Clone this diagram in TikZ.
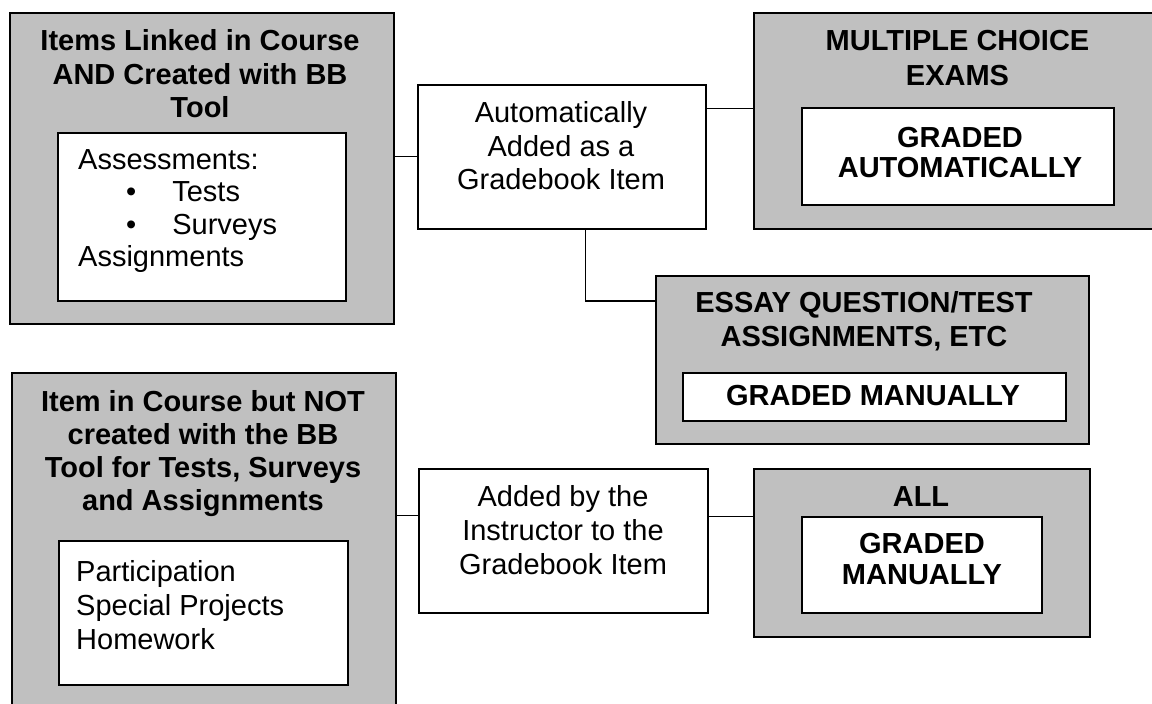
\documentclass[tikz,border=0pt]{standalone}
\usepackage{fontspec}
\setmainfont{Liberation Sans}
\definecolor{boxGray}{HTML}{C0C0C0}
\tikzstyle{grayBox}=[shape = rectangle, draw, fill = boxGray, line width = 1.8pt, inner sep = 0pt, anchor = north west]
\tikzstyle{whiteBox}=[shape = rectangle, draw, fill = white, line width = 1.6pt, inner sep = 0pt, anchor = north west]
\tikzstyle{headText}=[font = \fontsize{29}{33.5}\selectfont\bfseries, align = center, inner sep = 0pt, anchor = north]
\tikzstyle{bodyText}=[font = \fontsize{29}{33.5}\selectfont, align = center, inner sep = 0pt, anchor = north]
\tikzstyle{listText}=[bodyText, align = left, anchor = north west]
\tikzstyle{linkLine}=[line width = 1.3pt]

\begin{document}
\begin{tikzpicture}[x = 1pt, y = -1pt]
\useasboundingbox (0,0) rectangle (1152,704);
% boxes
\node[grayBox, minimum width = 384pt, minimum height = 311pt] (linkedBox) at (9,12) {};
\node[whiteBox, minimum width = 288pt, minimum height = 168pt] (linkedList) at (57,132) {};
\node[whiteBox, minimum width = 288pt, minimum height = 144pt] (autoBox) at (417,84) {};
\node[grayBox, minimum width = 402pt, minimum height = 216pt] (mcBox) at (753,12) {};
\node[whiteBox, minimum width = 312pt, minimum height = 97pt] (mcInner) at (801,107) {};
\node[grayBox, minimum width = 433pt, minimum height = 168pt] (essayBox) at (655,275) {};
\node[whiteBox, minimum width = 383pt, minimum height = 48pt] (essayInner) at (682,372) {};
\node[grayBox, minimum width = 384pt, minimum height = 345pt] (notBox) at (11,372) {};
\node[whiteBox, minimum width = 289pt, minimum height = 144pt] (notList) at (58,540) {};
\node[whiteBox, minimum width = 289pt, minimum height = 144pt] (instrBox) at (418,468) {};
\node[grayBox, minimum width = 336pt, minimum height = 168pt] (allBox) at (753,468) {};
\node[whiteBox, minimum width = 240pt, minimum height = 96pt] (allInner) at (801,516) {};
% texts
\node[headText] (linkedHead) at (200,29.3) {Items Linked in Course\\AND Created with BB\\Tool};
\node[listText, font = \fontsize{29}{32.5}\selectfont] (linkedItems) at (78,149) {Assessments:\\\hspace*{48pt}\textbullet\hspace*{36pt}Tests\\\hspace*{48pt}\textbullet\hspace*{36pt}Surveys\\Assignments};
\node[bodyText] (autoText) at (561,101.7) {Automatically\\Added as a\\Gradebook Item};
\node[headText, font = \fontsize{29}{35}\selectfont\bfseries] (mcHead) at (957.5,30) {MULTIPLE CHOICE\\EXAMS};
\node[headText, font = \fontsize{29}{30}\selectfont\bfseries] (mcGrade) at (960,126.7) {GRADED\\AUTOMATICALLY};
\node[headText, font = \fontsize{29}{34}\selectfont\bfseries] (essayHead) at (864,291.7) {ESSAY QUESTION/TEST\\ASSIGNMENTS, ETC};
\node[headText] (essayGrade) at (873,385) {GRADED MANUALLY};
\node[headText, font = \fontsize{29}{33}\selectfont\bfseries] (notHead) at (203,390) {Item in Course but NOT\\created with the BB\\Tool for Tests, Surveys\\and Assignments};
\node[listText, font = \fontsize{29}{34}\selectfont] (notItems) at (76,560.7) {Participation\\Special Projects\\Homework};
\node[bodyText, font = \fontsize{29}{34}\selectfont] (instrText) at (563,485) {Added by the\\Instructor to the\\Gradebook Item};
\node[headText] (allHead) at (921,486.7) {ALL};
\node[headText, font = \fontsize{29}{31}\selectfont\bfseries] (allGrade) at (922,533.3) {GRADED\\MANUALLY};
% connectors
\coordinate (autoOut) at ([yshift = 48pt]autoBox.east);
\coordinate (autoDown) at ([xshift = 24pt]autoBox.south);
\coordinate (essayIn) at ([yshift = 59pt]essayBox.west);
\coordinate (instrIn) at ([yshift = 25pt]instrBox.west);
\coordinate (instrOut) at ([yshift = 24pt]instrBox.east);
\draw[linkLine] (linkedBox.east |- autoBox.west) -- (autoBox.west);
\draw[linkLine] (autoOut) -- (autoOut -| mcBox.west);
\draw[linkLine] (autoDown) |- (essayIn);
\draw[linkLine] (instrIn -| notBox.east) -- (instrIn);
\draw[linkLine] (instrOut) -- (instrOut -| allBox.west);
\end{tikzpicture}
\end{document}
